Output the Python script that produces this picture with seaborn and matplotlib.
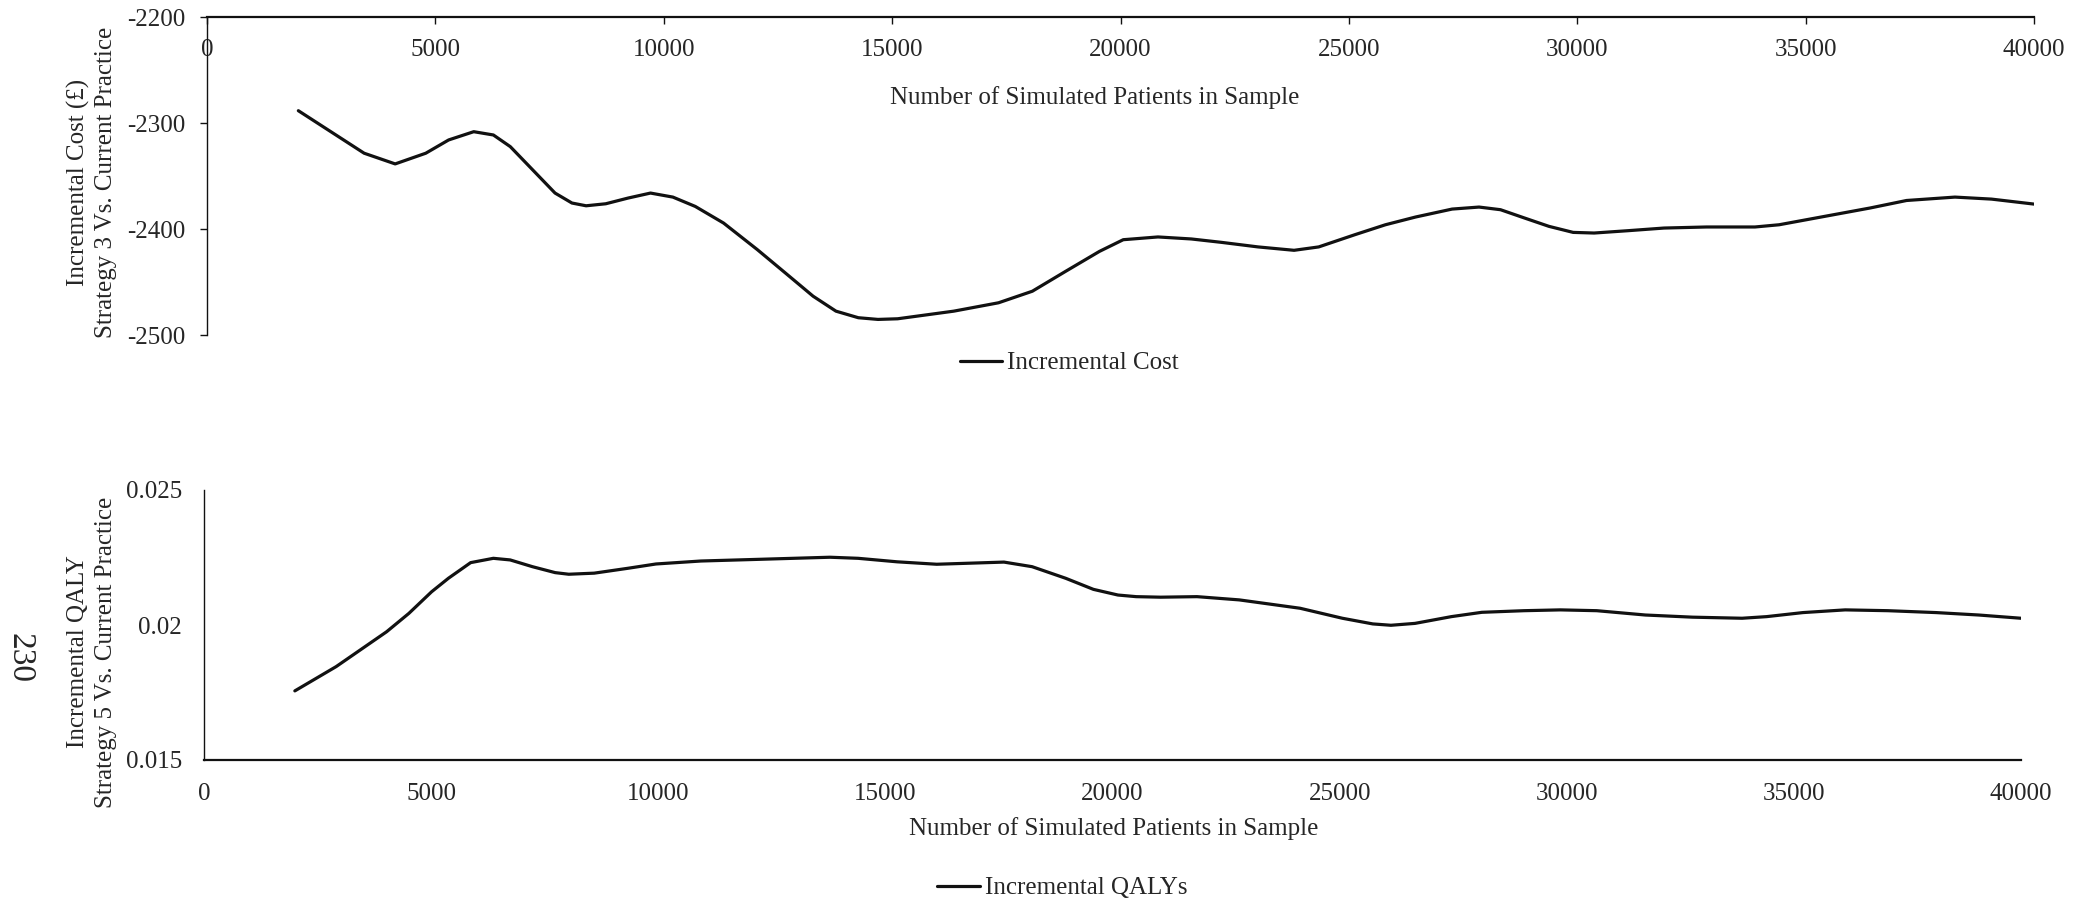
import matplotlib
matplotlib.use("Agg")
import matplotlib.pyplot as plt
import seaborn as sns
import pandas as pd

# Incremental cost of Strategy 3 vs. current practice, by simulated sample size
cost_n = [2000, 3440, 4120, 4790, 5290, 5840, 6270, 6640, 7130, 7620, 7990,
          8300, 8730, 9220, 9710, 10200, 10690, 11310, 12050, 12660, 13270,
          13770, 14260, 14690, 15120, 16350, 17330, 18070, 18800, 19540, 20060,
          20820, 21550, 22210, 23010, 23800, 24340, 25130, 25800, 26460, 27260,
          27850, 28320, 28850, 29380, 29910, 30370, 31110, 31900, 32830, 33890,
          34420, 35490, 36410, 37210, 38270, 39070, 40000]
cost_vals = [-2288.4, -2328.5, -2338.6, -2328.5, -2316.0, -2308.2, -2311.3, -2322.3,
             -2344.2, -2366.1, -2375.5, -2378.1, -2376.2, -2370.8, -2366.1, -2369.9,
             -2378.7, -2394.4, -2419.5, -2441.4, -2463.4, -2477.5, -2483.7, -2485.3,
             -2484.7, -2477.5, -2469.6, -2458.7, -2439.9, -2421.1, -2410.1, -2407.5,
             -2409.4, -2412.6, -2416.9, -2420.1, -2416.9, -2405.4, -2396.0, -2388.7,
             -2381.2, -2379.3, -2381.8, -2389.7, -2397.5, -2403.2, -2403.8, -2401.6,
             -2399.1, -2398.1, -2398.1, -2396.0, -2387.5, -2380.2, -2373.1, -2369.9,
             -2371.8, -2376.5]

# Incremental QALYs of Strategy 5 vs. current practice, by simulated sample size
qaly_n = [2000, 2910, 4020, 4510, 5010, 5380, 5870, 6370, 6740, 7230, 7730,
          8030, 8590, 9330, 9950, 10940, 12170, 13780, 14400, 15260, 16130,
          16870, 17610, 18230, 18970, 19580, 20120, 20520, 21060, 21860, 22790,
          24130, 25060, 25730, 26130, 26660, 27460, 28130, 29060, 29860, 30660,
          31730, 32770, 33860, 34400, 35200, 36130, 37070, 38130, 39070, 40000]
qaly_vals = [0.01756, 0.01846, 0.01975, 0.02043, 0.02123, 0.02173, 0.02231, 0.02247,
             0.02241, 0.02216, 0.02194, 0.02188, 0.02192, 0.02210, 0.02226, 0.02237,
             0.02243, 0.02251, 0.02247, 0.02234, 0.02225, 0.02229, 0.02233, 0.02216,
             0.02173, 0.02132, 0.02111, 0.02105, 0.02103, 0.02105, 0.02093, 0.02062,
             0.02025, 0.02004, 0.01999, 0.02006, 0.02031, 0.02047, 0.02053, 0.02056,
             0.02053, 0.02037, 0.02029, 0.02025, 0.02031, 0.02046, 0.02056, 0.02053,
             0.02046, 0.02037, 0.02025]

x_ticks = [0, 5000, 10000, 15000, 20000, 25000, 30000, 35000, 40000]
cost_ticks = [-2200, -2300, -2400, -2500]
qaly_ticks = [0.015, 0.02, 0.025]
qaly_tick_labels = ["0.015", "0.02", "0.025"]

x_title = "Number of Simulated Patients in Sample"
cost_title = "Incremental Cost (\u00a3)\nStrategy 3 Vs. Current Practice"
qaly_title = "Incremental QALY\nStrategy 5 Vs. Current Practice"
page_number = "230"

sns.set_theme(style="white")
plt.rcParams["font.family"] = ["Liberation Serif", "DejaVu Serif"]
plt.rcParams["axes.unicode_minus"] = False

W, H = 2094, 901
FS = 18
INK = "#111111"
fig = plt.figure(figsize=(W / 100, H / 100), dpi=100)
fig.patch.set_facecolor("white")

# ---- upper panel: incremental cost ----
ax1 = fig.add_axes([207 / W, 1 - 335 / H, (2034 - 207) / W, (335 - 17) / H])
cost_df = pd.DataFrame({"n": cost_n, "cost": cost_vals})
sns.lineplot(data=cost_df, x="n", y="cost", ax=ax1, color=INK,
             linewidth=2.3, label="Incremental Cost")
ax1.set_xlim(0, 40000)
ax1.set_ylim(-2500, -2200)
ax1.set_xticks(x_ticks)
ax1.set_xticklabels([str(t) for t in x_ticks])
ax1.set_yticks(cost_ticks)
ax1.set_yticklabels([str(t) for t in cost_ticks])
ax1.set_xlabel("")
ax1.set_ylabel("")
for side in ("bottom", "right"):
    ax1.spines[side].set_visible(False)
ax1.spines["top"].set_linewidth(1.6)
ax1.spines["top"].set_color(INK)
ax1.spines["left"].set_linewidth(1.0)
ax1.spines["left"].set_color(INK)
ax1.tick_params(axis="x", top=True, bottom=False, labeltop=True, labelbottom=False,
                direction="in", length=5, width=1, color=INK,
                pad=-31.5, labelsize=FS)
ax1.tick_params(axis="y", left=True, direction="out", length=5, width=1,
                color=INK, pad=10.5, labelsize=FS)
ax1.legend(loc="center", bbox_to_anchor=(0.5107, 1 - 363 / H),
           bbox_transform=fig.transFigure, frameon=False, fontsize=FS,
           handlelength=1.7, handletextpad=0.2)

# ---- lower panel: incremental QALYs ----
ax2 = fig.add_axes([204 / W, 1 - 760 / H, (2021 - 204) / W, (760 - 490) / H])
qaly_df = pd.DataFrame({"n": qaly_n, "qaly": qaly_vals})
sns.lineplot(data=qaly_df, x="n", y="qaly", ax=ax2, color=INK,
             linewidth=2.3, label="Incremental QALYs")
ax2.set_xlim(0, 40000)
ax2.set_ylim(0.015, 0.025)
ax2.set_xticks(x_ticks)
ax2.set_xticklabels([str(t) for t in x_ticks])
ax2.set_yticks(qaly_ticks)
ax2.set_yticklabels(qaly_tick_labels)
ax2.set_xlabel("")
ax2.set_ylabel("")
for side in ("top", "right"):
    ax2.spines[side].set_visible(False)
ax2.spines["bottom"].set_linewidth(1.6)
ax2.spines["bottom"].set_color(INK)
ax2.spines["left"].set_linewidth(1.0)
ax2.spines["left"].set_color(INK)
ax2.tick_params(axis="x", bottom=True, length=0, pad=16.5, labelsize=FS)
ax2.tick_params(axis="y", left=True, length=0, pad=15.8, labelsize=FS)
ax2.legend(loc="center", bbox_to_anchor=(0.5074, 1 - 888 / H),
           bbox_transform=fig.transFigure, frameon=False, fontsize=FS,
           handlelength=1.7, handletextpad=0.2)

# ---- titles ----
fig.text(1095 / W, 1 - 98 / H, x_title, ha="center", va="center", fontsize=FS)
fig.text(1114 / W, 1 - 829 / H, x_title, ha="center", va="center", fontsize=FS)
fig.text(92 / W, 1 - 182 / H, cost_title, ha="center", va="center",
         rotation=90, fontsize=FS, linespacing=1.3, multialignment="center")
fig.text(92 / W, 1 - 652 / H, qaly_title, ha="center", va="center",
         rotation=90, fontsize=FS, linespacing=1.3, multialignment="center")
fig.text(20 / W, 1 - 658 / H, page_number, ha="center", va="center",
         rotation=270, fontsize=24)

fig.savefig("out.png", dpi=100, facecolor="white")
